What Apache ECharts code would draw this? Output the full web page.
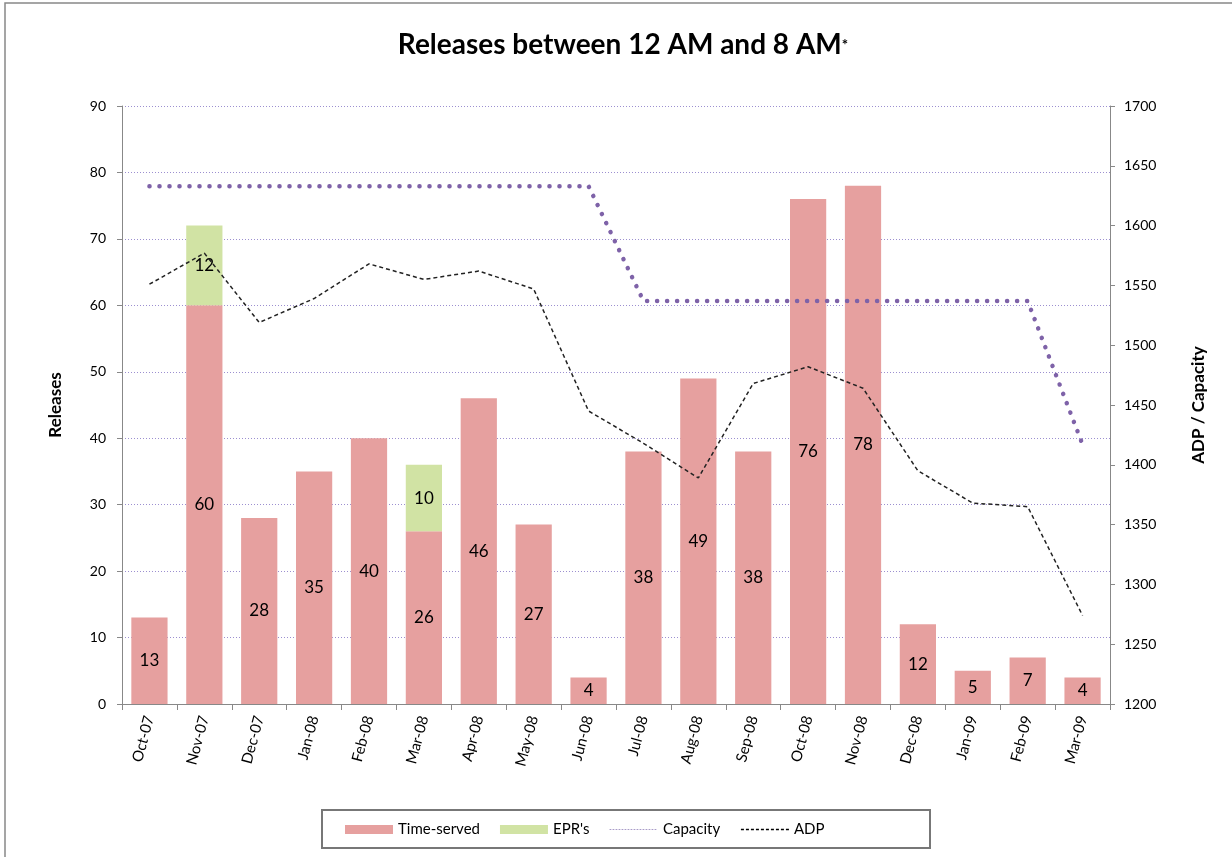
<!DOCTYPE html>
<html><head><meta charset="utf-8">
<script src="https://cdn.jsdelivr.net/npm/echarts@6/dist/echarts.min.js"></script>
<style>html,body{margin:0;padding:0;background:#fff}#c{width:1232px;height:857px}</style>
</head><body><div id="c"></div>
<script>
var categories = ['Oct-07','Nov-07','Dec-07','Jan-08','Feb-08','Mar-08','Apr-08','May-08','Jun-08','Jul-08','Aug-08','Sep-08','Oct-08','Nov-08','Dec-08','Jan-09','Feb-09','Mar-09'];
var timeServed = [13,60,28,35,40,26,46,27,4,38,49,38,76,78,12,5,7,4];
var eprs = [null,12,null,null,null,10,null,null,null,null,null,null,null,null,null,null,null,null];
var capacity = [1633,1633,1633,1633,1633,1633,1633,1633,1633,1537,1537,1537,1537,1537,1537,1537,1537,1417];
var adp = [1551,1577,1519,1539,1568,1555,1562,1547,1445,1418,1389,1468,1482,1464,1395,1368,1365,1274];
var leftTicks = {min:0,max:90,interval:10};
var rightTicks = {min:1200,max:1700,interval:50};

var FONT = 'Lato, "Open Sans", sans-serif';
var chart = echarts.init(document.getElementById('c'));
var lbl = {show:true, position:'inside', color:'#000', fontSize:17, fontFamily:FONT,
  formatter:function(p){return (p.value==null||p.value===0)?'':p.value;}};
chart.setOption({
  animation:false,
  backgroundColor:'#fff',
  graphic:[{type:'rect',shape:{x:5,y:3,width:1240,height:870},style:{fill:'none',stroke:'#888',lineWidth:1.5},silent:true},
    {type:'rect',shape:{x:322,y:810,width:608,height:38},style:{fill:'#fff',stroke:'#777',lineWidth:2},z:-1,silent:true}],
  title:{text:'Releases between 12 AM and 8 AM{s|*}',left:618,top:26,textAlign:'center',
    textStyle:{fontFamily:FONT,fontSize:28,fontWeight:'bold',color:'#000',rich:{s:{fontSize:15,fontWeight:'bold',color:'#000',fontFamily:FONT}}}},
  legend:{bottom:15,left:340,itemGap:20,itemWidth:48,itemHeight:9,
    textStyle:{fontFamily:FONT,fontSize:15,color:'#000'},
    data:[{name:'Time-served',icon:'rect'},{name:"EPR's",icon:'rect'},
      {name:'Capacity',itemStyle:{opacity:0},lineStyle:{width:1,type:[1,2],color:'#a89bc8'}},
      {name:'ADP',itemStyle:{opacity:0},lineStyle:{width:1.5,type:[3,2],color:'#000'}}]},
  grid:{left:122,right:122,top:106,bottom:153},
  xAxis:{type:'category',data:categories,
    axisLine:{lineStyle:{color:'#888',width:1}},
    axisTick:{show:true,alignWithLabel:false,length:6,lineStyle:{color:'#888'}},
    axisLabel:{rotate:75,fontFamily:FONT,fontSize:15,color:'#000',margin:12,interval:0}},
  yAxis:[{type:'value',name:'Releases',nameLocation:'middle',nameGap:58,nameRotate:90,
      min:leftTicks.min,max:leftTicks.max,interval:leftTicks.interval,
      nameTextStyle:{fontFamily:FONT,fontSize:17,fontWeight:'bold',color:'#000'},
      axisLine:{show:true,lineStyle:{color:'#888'}},axisTick:{show:true,length:5,lineStyle:{color:'#888'}},
      axisLabel:{fontFamily:FONT,fontSize:14,color:'#000',margin:16},
      splitLine:{show:true,lineStyle:{color:'#9c8fd0',type:[1,2],width:1}}},
    {type:'value',name:'ADP / Capacity',nameLocation:'middle',nameGap:80,nameRotate:90,
      min:rightTicks.min,max:rightTicks.max,interval:rightTicks.interval,
      nameTextStyle:{fontFamily:FONT,fontSize:17,fontWeight:'bold',color:'#000'},
      axisLine:{show:true,lineStyle:{color:'#888'}},axisTick:{show:true,length:5,lineStyle:{color:'#888'}},
      axisLabel:{fontFamily:FONT,fontSize:14,color:'#000',margin:14,formatter:function(v){return String(v);}},
      splitLine:{show:false}}],
  series:[
    {name:'Time-served',type:'bar',stack:'r',data:timeServed,barCategoryGap:'34%',
      itemStyle:{color:'#e6a09f'},label:lbl},
    {name:"EPR's",type:'bar',stack:'r',data:eprs,
      itemStyle:{color:'#d1e3a4'},label:lbl},
    {name:'Capacity',type:'line',yAxisIndex:1,data:capacity,symbol:'none',
      lineStyle:{color:'#7e62a8',width:4.5,type:[0.1,9.9],cap:'round'},z:3},
    {name:'ADP',type:'line',yAxisIndex:1,data:adp,symbol:'none',
      lineStyle:{color:'#222',width:1.5,type:[4,3]},z:4}
  ]
});
</script></body></html>
